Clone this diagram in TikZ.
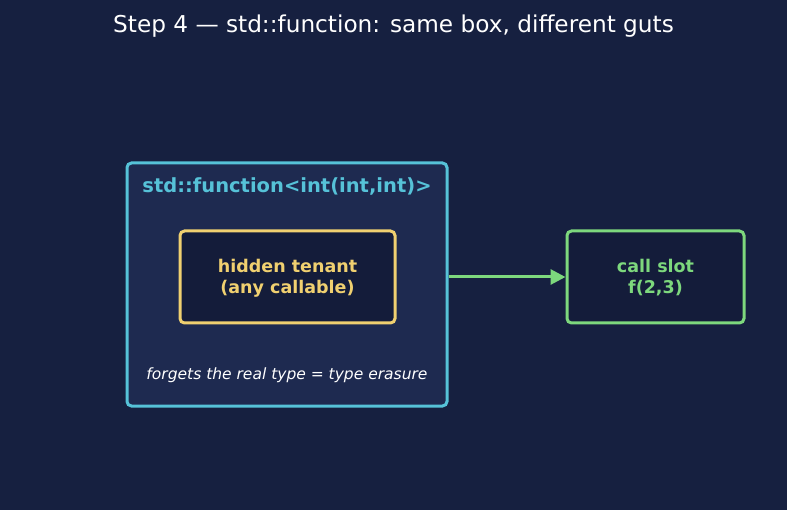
\documentclass[tikz,border=0pt]{standalone}
\usepackage{fontspec}
\setmainfont{DejaVu Sans}
\usetikzlibrary{arrows.meta}
\definecolor{bg}{HTML}{162040}
\definecolor{outerfill}{HTML}{1E2A50}
\definecolor{innerfill}{HTML}{141C3A}
\definecolor{cyanc}{HTML}{56C2D8}
\definecolor{yellowc}{HTML}{F0D070}
\definecolor{greenc}{HTML}{7DD87D}
\tikzset{
  boxbase/.style={rounded corners=4.5pt, line width=3pt, inner sep=0pt},
  outerbox/.style={boxbase, draw=cyanc, fill=outerfill},
  tenantbox/.style={boxbase, draw=yellowc, fill=innerfill},
  callbox/.style={boxbase, draw=greenc, fill=innerfill},
  lbl/.style={font=\bfseries\fontsize{17.5}{21}\selectfont, align=center},
}
\begin{document}
\begin{tikzpicture}[x=1pt,y=-1pt]
\useasboundingbox[fill=bg] (0,0) rectangle (787,510);
\node[text=white, font=\fontsize{23.2}{27}\selectfont] (title) at (393.5,26) {Step 4 — std::function: same box, different guts};
\node[outerbox, minimum width=320pt, minimum height=243pt] (outer) at (287,284.5) {};
\node[text=cyanc, font=\bfseries\fontsize{19.5}{23}\selectfont] (outerlbl) at (287,186) {std::function<int(int,int)>};
\node[tenantbox, minimum width=215pt, minimum height=92pt, text=yellowc, lbl] (tenant) at (287.5,277) {};
\node[text=yellowc, lbl] (tenantlbl) at (287.5,278) {hidden tenant\\(any callable)};
\node[text=white, font=\itshape\fontsize{15.5}{18}\selectfont] (note) at (287,375.5) {forgets the real type = type erasure};
\node[callbox, minimum width=177pt, minimum height=92pt] (call) at (655.5,277) {};
\node[text=greenc, lbl] (calllbl) at (655.5,278) {call slot\\f(2,3)};
\draw[greenc, line width=3pt, -{Triangle[length=15pt,width=15pt]}] (outer.east |- call.west) -- (call.west);
\end{tikzpicture}
\end{document}
